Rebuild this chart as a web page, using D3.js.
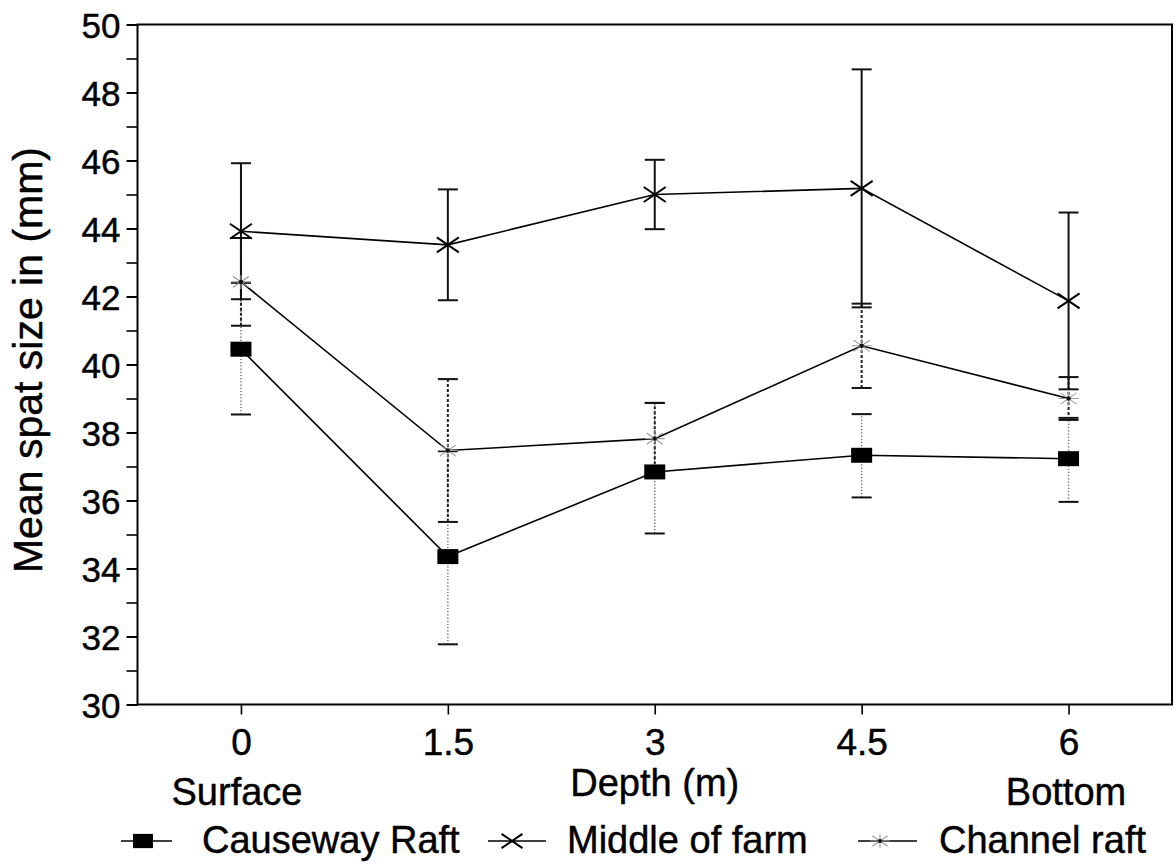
<!DOCTYPE html>
<html>
<head>
<meta charset="utf-8">
<script src="https://cdn.jsdelivr.net/npm/d3@7"></script>
<style>
  html, body { margin: 0; padding: 0; background: #fff; }
  svg { display: block; }
  text { font-family: "Liberation Sans", Arial, Helvetica, sans-serif; fill: #000; stroke: #000; stroke-width: 0.45px; }
</style>
</head>
<body>
<svg id="chart" width="1176" height="865"></svg>
<script>
// Depth positions along the water column (m)
const depths = [0, 1.5, 3, 4.5, 6];
const depthLabels = ["0", "1.5", "3", "4.5", "6"];
const yTickValues = [30, 32, 34, 36, 38, 40, 42, 44, 46, 48, 50];
const yMinorValues = [31, 33, 35, 37, 39, 41, 43, 45, 47, 49];

// Mean spat size (mm) with upper / lower error extents per site
const causewayMean    = [40.45, 34.35, 36.84, 37.33, 37.23];
const causewayErrUp   = [1.95, 3.1, 2.03, 1.21, 1.2];
const causewayErrDown = [1.92, 2.58, 1.81, 1.24, 1.27];
const middleMean      = [43.92, 43.52, 45.0, 45.18, 41.87];
const middleErr       = [2.0, 1.63, 1.02, 3.5, 2.6];
const channelMean     = [42.43, 37.47, 37.82, 40.55, 39.0];
const channelErr      = [1.29, 2.1, 1.05, 1.24, 0.63];

const seriesNames = ["Causeway Raft", "Middle of farm", "Channel raft"];

const svg = d3.select("#chart");
const plotLeft = 137.5, plotRight = 1172, plotTop = 24.5, plotBottom = 704.5;

const x = d3.scaleLinear().domain([-0.75, 6.75]).range([plotLeft, plotRight]);
const y = d3.scaleLinear().domain([30, 50]).range([plotBottom, plotTop]);

// Axes
const yAxis = d3.axisLeft(y).tickValues(yTickValues).tickSize(11).tickPadding(6)
  .tickFormat(d3.format("d"));
const gy = svg.append("g").attr("transform", `translate(${plotLeft},0)`).call(yAxis);
gy.select(".domain").remove();
gy.selectAll(".tick line").attr("stroke", "#000").attr("stroke-width", 2);
gy.selectAll(".tick text").style("font-size", "35px").attr("dy", "0.36em");

const yMinor = d3.axisLeft(y).tickValues(yMinorValues).tickSize(11).tickFormat("");
const gym = svg.append("g").attr("transform", `translate(${plotLeft},0)`).call(yMinor);
gym.select(".domain").remove();
gym.selectAll(".tick line").attr("stroke", "#000").attr("stroke-width", 1.6);

const xAxis = d3.axisBottom(x).tickValues(depths).tickSize(10).tickPadding(14)
  .tickFormat((d, i) => depthLabels[i]);
const gx = svg.append("g").attr("transform", `translate(0,${plotBottom})`).call(xAxis);
gx.select(".domain").remove();
gx.selectAll(".tick line").attr("stroke", "#000").attr("stroke-width", 1.6);
gx.selectAll(".tick text").style("font-size", "37px");

// Plot frame
svg.append("rect")
  .attr("x", plotLeft).attr("y", plotTop)
  .attr("width", plotRight - plotLeft).attr("height", plotBottom - plotTop)
  .attr("fill", "none").attr("stroke", "#000").attr("stroke-width", 2);

// Series definitions
const series = [
  { name: seriesNames[0], mean: causewayMean, up: causewayErrUp, down: causewayErrDown, marker: "square",
    bar: { stroke: "#666", width: 1.4, dash: "1.2,2" } },
  { name: seriesNames[2], mean: channelMean, up: channelErr, down: channelErr, marker: "star",
    bar: { stroke: "#222", width: 2, dash: "3,2" } },
  { name: seriesNames[1], mean: middleMean, up: middleErr, down: middleErr, marker: "cross",
    bar: { stroke: "#111", width: 2, dash: null } }
];

const plot = svg.append("g");

// Error bars (causeway first, middle of farm on top)
series.forEach(s => {
  const g = plot.append("g");
  depths.forEach((d, i) => {
    const cx = x(d);
    const y0 = y(s.mean[i] - s.down[i]);
    const y1 = y(s.mean[i] + s.up[i]);
    g.append("line").attr("x1", cx).attr("x2", cx).attr("y1", y0).attr("y2", y1)
      .attr("stroke", s.bar.stroke).attr("stroke-width", s.bar.width)
      .attr("stroke-dasharray", s.bar.dash);
    [y0, y1].forEach(yy => {
      g.append("line").attr("x1", cx - 10).attr("x2", cx + 10).attr("y1", yy).attr("y2", yy)
        .attr("stroke", "#111").attr("stroke-width", 2);
    });
  });
});

// Connecting lines
const line = d3.line().x((d, i) => x(depths[i])).y(d => y(d));
series.forEach(s => {
  plot.append("path").datum(s.mean).attr("d", line)
    .attr("fill", "none").attr("stroke", "#000").attr("stroke-width", 1.6);
});

// Marker drawing helper
function drawMarker(g, type, cx, cy, scale) {
  const k = scale || 1;
  if (type === "square") {
    g.append("rect").attr("x", cx - 10.5 * k).attr("y", cy - 7.5 * k)
      .attr("width", 21 * k).attr("height", 15 * k).attr("fill", "#000");
  } else if (type === "cross") {
    g.append("path")
      .attr("d", `M${cx - 11 * k},${cy - 7.5 * k}L${cx + 11 * k},${cy + 7.5 * k}M${cx - 11 * k},${cy + 7.5 * k}L${cx + 11 * k},${cy - 7.5 * k}`)
      .attr("stroke", "#000").attr("stroke-width", 2).attr("fill", "none");
  } else if (type === "star") {
    const rx = 10 * k, ry = 7 * k;
    const spokes = [[rx, 0], [0, ry], [rx * 0.8, ry * 0.8], [rx * 0.8, -ry * 0.8]];
    const p = spokes.map(([dx, dy]) => `M${cx - dx},${cy - dy}L${cx + dx},${cy + dy}`).join("");
    g.append("path").attr("d", p).attr("stroke", "#9a9a9a").attr("stroke-width", 1.1).attr("fill", "none");
    g.append("circle").attr("cx", cx).attr("cy", cy).attr("r", 2.2 * k).attr("fill", "#111");
  }
}

series.forEach(s => {
  const g = plot.append("g");
  depths.forEach((d, i) => drawMarker(g, s.marker, x(d), y(s.mean[i])));
});

// Axis titles
svg.append("text")
  .attr("transform", "translate(42,360) rotate(-90)")
  .attr("text-anchor", "middle")
  .style("font-size", "41px")
  .text("Mean spat size in (mm)");

svg.append("text").attr("x", x(3)).attr("y", 796)
  .attr("text-anchor", "middle").style("font-size", "38px").text("Depth (m)");
svg.append("text").attr("x", 237).attr("y", 805)
  .attr("text-anchor", "middle").style("font-size", "38px").text("Surface");
svg.append("text").attr("x", 1066).attr("y", 805)
  .attr("text-anchor", "middle").style("font-size", "38px").text("Bottom");

// Legend
const legendItems = [
  { name: seriesNames[0], marker: "square", x0: 121, x1: 172, mx: 143, tx: 202 },
  { name: seriesNames[1], marker: "cross", x0: 488, x1: 546, mx: 512, tx: 567 },
  { name: seriesNames[2], marker: "star", x0: 858, x1: 917, mx: 880, tx: 939 }
];
const legendY = 841;
const lg = svg.append("g");
legendItems.forEach(it => {
  lg.append("line").attr("x1", it.x0).attr("x2", it.x1).attr("y1", legendY).attr("y2", legendY)
    .attr("stroke", "#000").attr("stroke-width", 1.6);
  drawMarker(lg, it.marker, it.mx, legendY, 0.95);
  lg.append("text").attr("x", it.tx).attr("y", legendY + 12)
    .style("font-size", "38px").text(it.name);
});
</script>
</body>
</html>
